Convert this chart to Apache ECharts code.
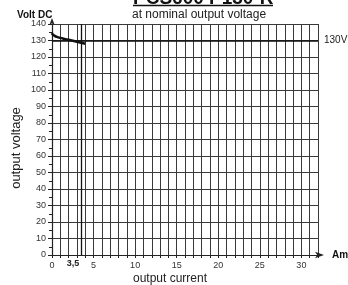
<!DOCTYPE html>
<html><head><meta charset="utf-8">
<script src="https://cdn.jsdelivr.net/npm/echarts@6/dist/echarts.min.js"></script>
<style>html,body{margin:0;padding:0;background:#fff}#c{width:348px;height:285px}</style>
</head><body><div id="c"></div>
<script>
const currentA = [0, 0.1, 0.3, 0.6, 1, 1.5, 2, 2.5, 3, 3.5, 4];
const voltageV = [134.5, 133.6, 132.9, 132.2, 131.6, 131.0, 130.4, 129.8, 129.2, 128.6, 128.0];
const nominalV = 130;
const markedCurrent = 3.5;
const xTickLabels = [0, 5, 10, 15, 20, 25, 30];
const FONT = 'Liberation Sans, Arial, sans-serif';

const chart = echarts.init(document.getElementById('c'), null, {renderer: 'canvas'});
chart.setOption({
  animation: false,
  backgroundColor: '#fff',
  title: [
    {text: 'PCS600 P130-R', left: 133, top: -11, padding: 0,
     textStyle: {fontFamily: FONT, fontSize: 19, fontWeight: 'bold', color: '#111'}},
    {text: 'at nominal output voltage', left: 132, top: 9, padding: 0,
     textStyle: {fontFamily: FONT, fontSize: 12, fontWeight: 'normal', color: '#222'}},
    {text: 'Volt DC', left: 17, top: 10, padding: 0,
     textStyle: {fontFamily: FONT, fontSize: 10, fontWeight: 'bold', color: '#111'}},
    {text: 'output current', left: 133, top: 273, padding: 0,
     textStyle: {fontFamily: FONT, fontSize: 12, fontWeight: 'normal', color: '#222'}}
  ],
  graphic: [
    {type: 'line', shape: {x1: 133, y1: 5.5, x2: 273, y2: 5.5}, style: {stroke: '#111', lineWidth: 1.5}},
    {type: 'text', x: 16, y: 148, rotation: Math.PI / 2, style: {text: 'output voltage', font: '13px ' + FONT, fill: '#222', textAlign: 'center', textVerticalAlign: 'middle'}}
  ],
  grid: {left: 52, right: 30, top: 24, bottom: 30, containLabel: false, outerBoundsMode: 'none'},
  xAxis: {
    type: 'value', min: 0, max: 32, interval: 1,
    name: 'Amp', nameLocation: 'end', nameGap: 14,
    nameTextStyle: {fontFamily: FONT, fontSize: 10, fontWeight: 'bold', color: '#111', verticalAlign: 'middle'},
    axisLine: {show: true, lineStyle: {color: '#222', width: 1.2}, symbol: ['none', 'arrow'], symbolSize: [5, 9], symbolOffset: [0, 6]},
    axisTick: {show: true, length: 3, lineStyle: {color: '#222'}},
    axisLabel: {fontFamily: FONT, fontSize: 9, color: '#333', margin: 6,
      formatter: v => xTickLabels.indexOf(v) >= 0 ? String(v) : ''},
    splitLine: {show: true, lineStyle: {color: '#3a3a3a', width: 1}}
  },
  yAxis: {
    type: 'value', min: 0, max: 140, interval: 10,
    axisLine: {show: true, lineStyle: {color: '#222', width: 1.2}, symbol: ['none', 'arrow'], symbolSize: [4, 7], symbolOffset: [0, 6]},
    axisTick: {show: true, length: 4, lineStyle: {color: '#222'}},
    minorTick: {show: true, splitNumber: 2, length: 3, lineStyle: {color: '#222'}},
    axisLabel: {fontFamily: FONT, fontSize: 9, color: '#333', margin: 6},
    splitLine: {show: true, lineStyle: {color: '#3a3a3a', width: 1}}
  },
  series: [{
    type: 'line',
    data: currentA.map((x, i) => [x, voltageV[i]]),
    smooth: true, showSymbol: false,
    lineStyle: {color: '#111', width: 2.5},
    markLine: {
      silent: true, symbol: 'none',
      data: [
        {yAxis: nominalV, lineStyle: {color: '#111', width: 1.6, type: 'solid'},
         label: {show: true, position: 'end', distance: 6, formatter: nominalV + 'V', fontFamily: FONT, fontSize: 10, color: '#222'}},
        {xAxis: markedCurrent, lineStyle: {color: '#111', width: 1.3, type: 'solid'},
         label: {show: true, position: 'start', distance: 4, padding: [0, 16, 0, 0], formatter: '3,5', fontFamily: FONT, fontSize: 9, fontWeight: 'bold', color: '#222'}}
      ]
    }
  }]
});
</script></body></html>
